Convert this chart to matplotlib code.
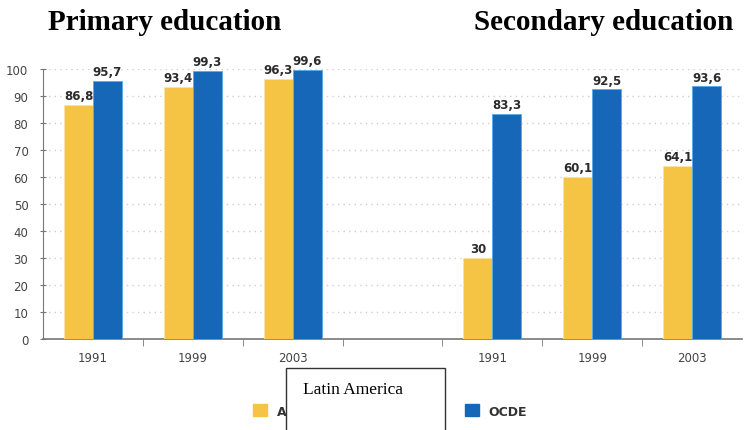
import numpy as np
import matplotlib.pyplot as plt
from matplotlib.patches import Rectangle, Patch

# Enrollment rates (%) by level and year
levels = ['Primary education', 'Secondary education']
years = ['1991', '1999', '2003']
latin_primary = [86.8, 93.4, 96.3]
ocde_primary = [95.7, 99.3, 99.6]
latin_secondary = [30, 60.1, 64.1]
ocde_secondary = [83.3, 92.5, 93.6]
yticks = list(range(0, 101, 10))

yellow = '#F5C445'
blue = '#1667B7'

fig = plt.figure(figsize=(7.5, 4.31), dpi=100)
ax = fig.add_axes([43/750, 1-340/431, 699/750, 270/431])

# seven category slots, the middle one left empty between the two panels
pos = np.array([0, 1, 2, 4, 5, 6])
latin = latin_primary + latin_secondary
ocde = ocde_primary + ocde_secondary
w = 0.29

b1 = ax.bar(pos - w/2, latin, w, color=yellow, edgecolor='#fbe3a0', linewidth=0.6, zorder=3)
b2 = ax.bar(pos + w/2, ocde, w, color=blue, edgecolor='#5aa9e6', linewidth=0.6, zorder=3)

def fmt(v):
    s = ('%.1f' % v).replace('.', ',')
    return s[:-2] if s.endswith(',0') else s

for bars, vals in ((b1, latin), (b2, ocde)):
    for r, v in zip(bars, vals):
        ax.text(r.get_x() + r.get_width()/2, v + 1, fmt(v), ha='center', va='bottom',
                fontsize=8.5, fontweight='bold', color='#2b2b2b', zorder=4)

ax.set_xlim(-0.5, 6.5)
ax.set_ylim(0, 100)
ax.set_yticks(yticks)
ax.set_yticklabels([str(t) for t in yticks], fontsize=8.5, color='#444444')
ax.set_xticks(pos)
ax.set_xticklabels(years * 2, fontsize=8.5, color='#444444')
ax.set_xticks(np.arange(0.5, 6.5, 1), minor=True)
ax.tick_params(axis='x', which='major', length=0, pad=9)
ax.tick_params(axis='x', which='minor', length=5, color='#777777', direction='out')
ax.tick_params(axis='y', length=5, direction='inout', color='#777777', pad=8)

ax.grid(axis='y', color='#cfcfcf', linestyle=(0, (1, 3)), linewidth=1, zorder=0)
for s in ('top', 'right'):
    ax.spines[s].set_visible(False)
ax.spines['left'].set_color('#777777')
ax.spines['bottom'].set_color('#777777')
ax.spines['bottom'].set_linewidth(1.2)

# panel titles
fig.text(165/750, 1-22/431, levels[0], ha='center', va='center',
         fontsize=21, fontweight='bold', family='Liberation Serif')
fig.text(604/750, 1-22/431, levels[1], ha='center', va='center',
         fontsize=21, fontweight='bold', family='Liberation Serif')

handles = [Patch(color=yellow), Patch(color=blue)]
fig.legend(handles, ['América Latina', 'OCDE'], ncol=2, loc='center',
           bbox_to_anchor=(0.52, 1-412/431), frameon=False,
           handlelength=1.1, handleheight=1.1, columnspacing=6.6,
           prop={'weight': 'bold', 'size': 9})
for t in fig.legends[0].get_texts():
    t.set_color('#333333')

# white label box laid over the first legend entry
fig.patches.append(Rectangle((286/750, -0.01), 159/750, (431-369)/431 + 0.01,
                             transform=fig.transFigure, facecolor='white',
                             edgecolor='#333333', linewidth=1, zorder=10))
fig.text(303/750, 1-390/431, 'Latin America', ha='left', va='center',
         fontsize=12.5, family='Liberation Serif', zorder=11)

fig.savefig('out.png', dpi=100)
